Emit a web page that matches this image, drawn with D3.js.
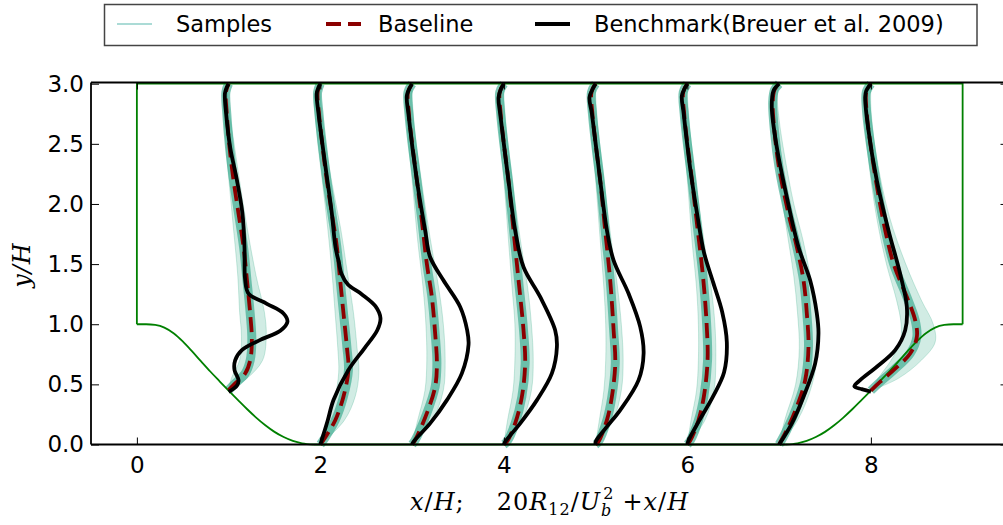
<!DOCTYPE html>
<html>
<head>
<meta charset="utf-8">
<script src="https://cdn.jsdelivr.net/npm/d3@7"></script>
<style>
  body { margin: 0; background: #fff; }
  svg { display: block; }
</style>
</head>
<body>
<svg id="chart" width="1003" height="525"></svg>
<script>
// stations x/H where profiles are taken
var stations = [1, 2, 3, 4, 5, 6, 7, 8];
var xTicks = [0, 2, 4, 6, 8];
var yTicks = [0, 0.5, 1.0, 1.5, 2.0, 2.5, 3.0];

// hill contour (x/H, y/H), left hill; right hill is the same shape mirrored at x/H = 9
var hillX = [0, 0.1, 0.2, 0.3, 0.4, 0.5, 0.6, 0.7, 0.8, 0.9, 1.0, 1.1, 1.2, 1.3, 1.4, 1.5, 1.6, 1.7, 1.8, 1.929];
var hillY = [1.0, 1.0, 0.994, 0.972, 0.925, 0.857, 0.776, 0.691, 0.607, 0.527, 0.448, 0.371, 0.295, 0.224, 0.160, 0.105, 0.062, 0.030, 0.010, 0.0];

// profiles: [y/H, 20 R12/Ub^2]
var benchmark = [
  [[0.438,0],[0.49,0.09],[0.535,0.108],[0.62,0.064],[0.70,0.071],[0.785,0.144],[0.87,0.345],[0.945,0.563],[1.02,0.641],[1.09,0.598],[1.17,0.417],[1.255,0.217],[1.37,0.18],[1.64,0.173],[1.92,0.151],[2.2,0.09],[2.47,0.017],[2.75,-0.027],[2.92,-0.04],[2.97,-0.02],[3.0,0]],
  [[0,0],[0.04,0.016],[0.2,0.08],[0.37,0.143],[0.62,0.306],[0.8,0.48],[0.95,0.62],[1.05,0.655],[1.15,0.6],[1.25,0.45],[1.33,0.3],[1.42,0.23],[1.52,0.2],[1.64,0.165],[1.92,0.125],[2.33,0.052],[2.75,-0.02],[2.92,-0.04],[2.97,-0.02],[3.0,0]],
  [[0,0],[0.023,0.015],[0.176,0.196],[0.369,0.379],[0.591,0.542],[0.83,0.615],[0.95,0.6],[1.144,0.524],[1.365,0.341],[1.559,0.196],[1.78,0.142],[2.195,0.052],[2.748,-0.04],[2.9,-0.058],[2.96,-0.03],[3.0,0]],
  [[0,0],[0.023,0.014],[0.176,0.178],[0.369,0.36],[0.591,0.523],[0.812,0.578],[0.95,0.559],[1.227,0.396],[1.476,0.214],[1.78,0.123],[2.195,0.05],[2.748,-0.04],[2.886,-0.058],[2.96,-0.03],[3.0,0]],
  [[0,0],[0.023,0.0],[0.148,0.123],[0.286,0.268],[0.535,0.468],[0.757,0.523],[0.978,0.486],[1.255,0.359],[1.531,0.196],[1.78,0.123],[2.195,0.05],[2.748,-0.04],[2.886,-0.067],[2.96,-0.03],[3.0,0]],
  [[0,0],[0.03,0.01],[0.2,0.13],[0.4,0.28],[0.6,0.4],[0.85,0.43],[1.1,0.38],[1.35,0.28],[1.6,0.18],[1.9,0.11],[2.3,0.03],[2.75,-0.04],[2.9,-0.06],[2.96,-0.03],[3.0,0]],
  [[0,0],[0.176,0.139],[0.397,0.266],[0.674,0.393],[0.923,0.429],[1.089,0.411],[1.365,0.338],[1.642,0.211],[2.056,0.084],[2.471,-0.025],[2.803,-0.08],[2.94,-0.062],[3.0,0]],
  [[0.44,0],[0.46,-0.1],[0.483,-0.18],[0.535,-0.117],[0.646,0.065],[0.784,0.265],[0.95,0.374],[1.144,0.392],[1.42,0.319],[1.78,0.192],[2.195,0.065],[2.61,-0.026],[2.886,-0.062],[2.94,-0.051],[3.0,0]]
];

var baseline = [
  [[0.452,0],[0.508,0.071],[0.59,0.18],[0.70,0.235],[0.87,0.253],[1.09,0.235],[1.365,0.2],[1.64,0.163],[1.92,0.108],[2.2,0.053],[2.47,0.01],[2.75,-0.02],[2.93,-0.03],[3.0,0]],
  [[0,0],[0.037,0.034],[0.2,0.161],[0.4,0.252],[0.62,0.306],[0.81,0.289],[1.09,0.252],[1.365,0.216],[1.64,0.18],[1.92,0.125],[2.2,0.07],[2.5,0.02],[2.75,-0.015],[2.93,-0.03],[3.0,0]],
  [[0,0],[0.037,0.033],[0.259,0.16],[0.48,0.251],[0.674,0.27],[0.923,0.251],[1.227,0.215],[1.504,0.16],[1.863,0.106],[2.195,0.052],[2.5,0.0],[2.75,-0.035],[2.93,-0.045],[3.0,0]],
  [[0,0],[0.023,0.033],[0.176,0.123],[0.397,0.196],[0.674,0.232],[0.95,0.214],[1.365,0.16],[1.78,0.105],[2.195,0.05],[2.5,0.0],[2.75,-0.035],[2.93,-0.045],[3.0,0]],
  [[0,0],[0.023,0.031],[0.203,0.123],[0.397,0.177],[0.674,0.214],[0.95,0.196],[1.365,0.159],[1.78,0.104],[2.195,0.05],[2.5,0.0],[2.75,-0.035],[2.93,-0.045],[3.0,0]],
  [[0,0],[0.03,0.03],[0.2,0.12],[0.4,0.18],[0.7,0.22],[1.0,0.21],[1.4,0.17],[1.8,0.11],[2.2,0.05],[2.5,0.0],[2.75,-0.035],[2.93,-0.045],[3.0,0]],
  [[0,0],[0.12,0.084],[0.314,0.193],[0.535,0.284],[0.812,0.32],[1.089,0.302],[1.365,0.266],[1.642,0.193],[1.919,0.102],[2.3,0.0],[2.6,-0.05],[2.85,-0.07],[2.95,-0.05],[3.0,0]],
  [[0.448,0],[0.52,0.1],[0.618,0.247],[0.757,0.428],[0.895,0.501],[1.033,0.483],[1.227,0.392],[1.504,0.247],[1.919,0.12],[2.47,0.0],[2.8,-0.05],[2.93,-0.05],[3.0,0]]
];

// spread of the sample profiles: [y/H, lowest, highest]
var sampleBand = [
  [[0.448,0,0],[0.55,0.03,0.2],[0.7,0.12,0.37],[0.9,0.14,0.41],[1.1,0.12,0.39],[1.4,0.1,0.3],[1.9,0.04,0.18],[2.5,-0.03,0.06],[2.9,-0.05,-0.01],[3.0,0,0]],
  [[0,0,0],[0.2,0.08,0.26],[0.4,0.16,0.38],[0.6,0.2,0.42],[0.8,0.19,0.4],[1.1,0.16,0.36],[1.4,0.13,0.3],[1.8,0.08,0.22],[2.2,0.02,0.12],[2.6,-0.04,0.04],[2.9,-0.06,0.0],[3.0,0,0]],
  [[0,0,0],[0.2,0.06,0.22],[0.45,0.14,0.34],[0.7,0.16,0.36],[1.0,0.15,0.34],[1.3,0.12,0.29],[1.7,0.06,0.2],[2.2,0.0,0.1],[2.6,-0.05,0.03],[2.9,-0.07,0.0],[3.0,0,0]],
  [[0,0,0],[0.2,0.04,0.2],[0.45,0.1,0.3],[0.7,0.12,0.32],[1.0,0.12,0.3],[1.3,0.09,0.26],[1.7,0.05,0.18],[2.2,0.0,0.09],[2.6,-0.05,0.03],[2.9,-0.07,0.0],[3.0,0,0]],
  [[0,0,0],[0.2,0.04,0.19],[0.45,0.09,0.28],[0.7,0.11,0.3],[1.0,0.11,0.28],[1.3,0.09,0.24],[1.7,0.05,0.17],[2.2,0.0,0.09],[2.6,-0.05,0.03],[2.9,-0.07,0.0],[3.0,0,0]],
  [[0,0,0],[0.2,0.04,0.19],[0.45,0.1,0.29],[0.7,0.12,0.31],[1.0,0.12,0.3],[1.3,0.1,0.26],[1.7,0.05,0.18],[2.2,0.0,0.09],[2.6,-0.05,0.03],[2.9,-0.07,0.0],[3.0,0,0]],
  [[0,0,0],[0.2,0.06,0.2],[0.5,0.18,0.36],[0.8,0.22,0.42],[1.1,0.2,0.4],[1.4,0.16,0.34],[1.7,0.1,0.26],[2.0,0.04,0.16],[2.4,-0.04,0.06],[2.7,-0.08,0.0],[2.9,-0.08,-0.02],[3.0,0,0]],
  [[0.448,0,0],[0.55,0.08,0.3],[0.7,0.22,0.55],[0.85,0.32,0.7],[1.0,0.33,0.68],[1.2,0.28,0.55],[1.5,0.17,0.38],[1.9,0.06,0.2],[2.4,-0.03,0.06],[2.8,-0.07,0.0],[3.0,0,0]]
];

var legendItems = ["Samples", "Baseline", "Benchmark(Breuer et al. 2009)"];

var pLeft = 91, pRight = 1008.5, pTop = 82.5, pBottom = 444.5;

var svg = d3.select("#chart");

var xScale = d3.scaleLinear().domain([-0.5, 9.5]).range([pLeft, pRight]);
var yScale = d3.scaleLinear().domain([0, 3.01]).range([pBottom, pTop]);

var teal = "#1b9e77";

var plot = svg.append("g");

// samples
stations.forEach(function(s, i) {
  var area = d3.area()
    .y(function(d) { return yScale(d[0]); })
    .x0(function(d) { return xScale(s + d[1]); })
    .x1(function(d) { return xScale(s + d[2]); })
    .curve(d3.curveCatmullRom);
  plot.append("path").datum(sampleBand[i])
    .attr("d", area)
    .attr("fill", teal).attr("fill-opacity", 0.2);

  [1, 2].forEach(function(k) {
    plot.append("path").datum(sampleBand[i])
      .attr("d", d3.line()
        .x(function(d) { return xScale(s + d[k]); })
        .y(function(d) { return yScale(d[0]); })
        .curve(d3.curveCatmullRom))
      .attr("fill", "none").attr("stroke", teal)
      .attr("stroke-opacity", 0.22).attr("stroke-width", 1);
  });

  // dense core of the samples
  plot.append("path").datum(baseline[i])
    .attr("d", d3.line()
      .x(function(d) { return xScale(s + d[1]); })
      .y(function(d) { return yScale(d[0]); })
      .curve(d3.curveCatmullRom))
    .attr("fill", "none").attr("stroke", "#26a284")
    .attr("stroke-opacity", 0.6).attr("stroke-width", 9);
});

// geometry
var hillPts = hillX.map(function(v, i) { return [v, hillY[i]]; });
var geoLine = d3.line()
  .x(function(d) { return xScale(d[0]); })
  .y(function(d) { return yScale(d[1]); });
var hillLine = d3.line()
  .x(function(d) { return xScale(d[0]); })
  .y(function(d) { return yScale(d[1]); })
  .curve(d3.curveMonotoneX);
var geo = plot.append("g").attr("fill", "none").attr("stroke", "#008000").attr("stroke-width", 1.8);
geo.append("path").attr("d", hillLine(hillPts));
geo.append("path").attr("d", hillLine(hillPts.map(function(p) { return [9 - p[0], p[1]]; }).reverse()));
geo.append("path").attr("d", geoLine([[0, 1], [0, 3], [9, 3], [9, 1]]));
geo.append("path").attr("d", geoLine([[1.929, 0], [7.071, 0]]));

// baseline and benchmark
stations.forEach(function(s, i) {
  var line = d3.line()
    .x(function(d) { return xScale(s + d[1]); })
    .y(function(d) { return yScale(d[0]); })
    .curve(d3.curveCatmullRom);
  plot.append("path").datum(baseline[i])
    .attr("d", line)
    .attr("fill", "none").attr("stroke", "#8b0000")
    .attr("stroke-width", 3.8).attr("stroke-dasharray", "15,7");
  plot.append("path").datum(benchmark[i])
    .attr("d", line)
    .attr("fill", "none").attr("stroke", "#000")
    .attr("stroke-width", 3.8).attr("stroke-linejoin", "round");
});

// axes
var tickFont = "DejaVu Sans, sans-serif";
var gx = svg.append("g").attr("transform", "translate(0," + pBottom + ")")
  .call(d3.axisBottom(xScale).tickValues(xTicks).tickSize(-7).tickPadding(12).tickFormat(d3.format("d")));
var gy = svg.append("g").attr("transform", "translate(" + pLeft + ",0)")
  .call(d3.axisLeft(yScale).tickValues(yTicks).tickSize(-8).tickPadding(7).tickFormat(d3.format(".1f")));
var gt = svg.append("g").attr("transform", "translate(0," + pTop + ")")
  .call(d3.axisTop(xScale).tickValues(xTicks).tickSize(-7).tickFormat(""));
var gr = svg.append("g").attr("transform", "translate(" + pRight + ",0)")
  .call(d3.axisRight(yScale).tickValues(yTicks).tickSize(-8).tickFormat(""));
[gx, gy, gt, gr].forEach(function(g) {
  g.select(".domain").attr("stroke", "#000").attr("stroke-width", 1.8);
  g.selectAll(".tick line").attr("stroke", "#000").attr("stroke-width", 1);
  g.selectAll(".tick text").attr("font-family", tickFont).attr("font-size", 23).attr("fill", "#000");
});
gy.select(".domain").attr("d", "M0," + pBottom + "V" + pTop);
gx.select(".domain").attr("d", "M" + pLeft + ",0H" + pRight);
gt.select(".domain").attr("d", "M" + pLeft + ",0H" + pRight);
gr.select(".domain").attr("d", "M0," + pBottom + "V" + pTop);

// axis labels
var serif = "DejaVu Serif, serif";
svg.append("text")
  .attr("transform", "translate(30,265) rotate(-90)")
  .attr("text-anchor", "middle")
  .attr("font-family", serif).attr("font-style", "italic").attr("font-size", 24)
  .attr("letter-spacing", 1)
  .text("y/H");

var xl = svg.append("text")
  .attr("x", 410).attr("y", 510)
  .attr("font-family", serif).attr("font-size", 24).attr("letter-spacing", 1);
xl.append("tspan").attr("font-style", "italic").text("x");
xl.append("tspan").text("/");
xl.append("tspan").attr("font-style", "italic").text("H");
xl.append("tspan").text(";");
xl.append("tspan").attr("dx", 32).text("20");
xl.append("tspan").attr("font-style", "italic").text("R");
xl.append("tspan").attr("font-size", 16).attr("dy", 5).text("12");
xl.append("tspan").attr("dy", -5).text("/");
xl.append("tspan").attr("font-style", "italic").text("U");
xl.append("tspan").attr("font-size", 16).attr("font-style", "italic").attr("dy", 6).text("b");
xl.append("tspan").attr("font-size", 16).attr("dx", -9).attr("dy", -17).text("2");
xl.append("tspan").attr("dx", 8).attr("dy", 11).text("+");
xl.append("tspan").attr("font-style", "italic").text("x");
xl.append("tspan").text("/");
xl.append("tspan").attr("font-style", "italic").text("H");

// legend
var lg = svg.append("g");
lg.append("rect").attr("x", 104.5).attr("y", 4.5).attr("width", 872.5).attr("height", 41)
  .attr("fill", "#fff").attr("stroke", "#444").attr("stroke-width", 1.5);
var lgLines = [
  {x: 117, stroke: "#8fcfc8", w: 1.6, dash: null},
  {x: 326, stroke: "#8b0000", w: 3.8, dash: "15,7"},
  {x: 535, stroke: "#000", w: 3.8, dash: null}
];
var lgText = [176, 378, 594];
lgLines.forEach(function(l, i) {
  lg.append("line").attr("x1", l.x).attr("x2", l.x + 35).attr("y1", 24).attr("y2", 24)
    .attr("stroke", l.stroke).attr("stroke-width", l.w).attr("stroke-dasharray", l.dash);
  lg.append("text").attr("x", lgText[i]).attr("y", 24).attr("dy", "0.36em")
    .attr("font-family", tickFont).attr("font-size", 22.5).text(legendItems[i]);
});
</script>
</body>
</html>
